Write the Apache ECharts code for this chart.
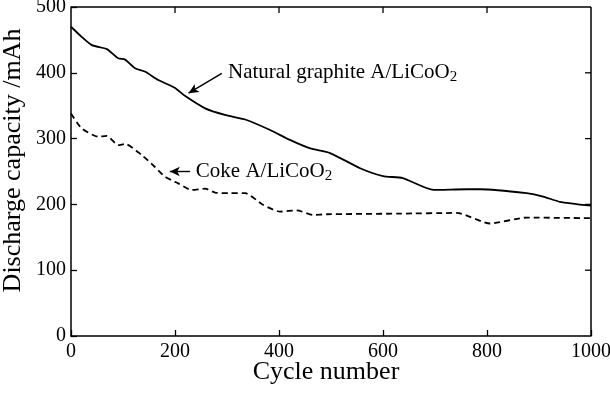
<!DOCTYPE html>
<html><head><meta charset="utf-8">
<script src="https://cdn.jsdelivr.net/npm/echarts@6/dist/echarts.min.js"></script>
<style>html,body{margin:0;padding:0;background:#fff}#c{width:610px;height:395px}</style>
</head><body><div id="c"></div>
<script>
const naturalCycles = [0,20,40,69,91,104,123,142,168,200,219,258,296,335,383,421,460,498,556,600,638,697,761,787,876,908,940,1000];
const naturalValues = [470,455,442,436,422,420,407,402,389,377,365,346,336,329,313,298,285,278,255,243,240,222,223,223,217,212,204,198];
const cokeCycles = [0,20,52,69,91,104,136,160,181,206,232,258,277,306,335,370,402,434,466,492,633,742,806,876,1000];
const cokeValues = [338,316,303,304,290,292,275,258,242,232,222,224,218,217,217,199,189,191,184,185,186,187,171,180,179];
const xTicks = [0,200,400,600,800,1000];
const yTicks = [0,100,200,300,400,500];
const xTitle = 'Cycle number';
const yTitle = 'Discharge capacity /mAh';

const F = '"Liberation Serif","Times New Roman",serif';
const chart = echarts.init(document.getElementById('c'));
const tick = () => ({show:true, inside:true, length:6, lineStyle:{color:'#000', width:1.3}});
const option = {
  animation:false,
  grid:{left:71, right:19, top:7, bottom:59, outerBoundsMode:'none'},
  xAxis:{
    type:'value', min:xTicks[0], max:xTicks[xTicks.length-1], interval:200,
    axisLine:{show:true, lineStyle:{color:'#000', width:1.5}}, axisTick:tick(), splitLine:{show:false},
    axisLabel:{color:'#000', fontFamily:F, fontSize:20, margin:6, formatter:v=>String(v)}
  },
  yAxis:{
    type:'value', min:yTicks[0], max:yTicks[yTicks.length-1], interval:100,
    axisLine:{show:true, lineStyle:{color:'#000', width:1.5}}, axisTick:tick(), splitLine:{show:false},
    axisLabel:{color:'#000', fontFamily:F, fontSize:20, margin:5, formatter:v=>String(v)}
  },
  series:[{
    type:'line', name:'Natural graphite', showSymbol:false, smooth:0.2,
    data:naturalCycles.map((c,i)=>[c,naturalValues[i]]),
    lineStyle:{color:'#000', width:1.8},
    markLine:{silent:true, symbolSize:[7,10], lineStyle:{color:'#000', width:1.4, type:'solid'}, label:{show:false},
      data:[[{coord:[290,399], symbol:'none'},{coord:[226,369], symbol:'arrow'}]]}
  },{
    type:'line', name:'Coke', showSymbol:false, smooth:0.2,
    data:cokeCycles.map((c,i)=>[c,cokeValues[i]]),
    lineStyle:{color:'#000', width:1.8, type:[6,4]},
    markLine:{silent:true, symbolSize:[7,10], lineStyle:{color:'#000', width:1.4, type:'solid'}, label:{show:false},
      data:[[{coord:[229,250], symbol:'none'},{coord:[190,250], symbol:'arrow'}]]}
  }]
};
chart.setOption(option);
const px = v => chart.convertToPixel({gridIndex:0}, v);
const p1 = px([302,401]);
const p2 = px([240,250]);
const o0 = px([xTicks[0], yTicks[0]]);
const o1 = px([xTicks[xTicks.length-1], yTicks[yTicks.length-1]]);
const rich = {
  t:{fontFamily:F, fontSize:21, color:'#000'},
  s:{fontFamily:F, fontSize:15, color:'#000', padding:[9,0,0,0]}
};
const frameStyle = {stroke:'#000', lineWidth:1.5, fill:null};
const tickStyle = {stroke:'#000', lineWidth:1.3};
const elems = [
  {type:'line', shape:{x1:o0[0], y1:o1[1], x2:o1[0], y2:o1[1]}, style:frameStyle, z:10},
  {type:'line', shape:{x1:o1[0], y1:o1[1], x2:o1[0], y2:o0[1]}, style:frameStyle, z:10}
];
xTicks.slice(1, -1).forEach(t => {
  const p = px([t, yTicks[yTicks.length-1]]);
  elems.push({type:'line', shape:{x1:p[0], y1:p[1], x2:p[0], y2:p[1]+6}, style:tickStyle, z:10});
});
yTicks.slice(1, -1).forEach(t => {
  const p = px([xTicks[xTicks.length-1], t]);
  elems.push({type:'line', shape:{x1:p[0], y1:p[1], x2:p[0]-6, y2:p[1]}, style:tickStyle, z:10});
});
elems.push(
  {type:'text', x:p1[0], y:p1[1], style:{text:'{t|Natural graphite A/LiCoO}{s|2}', rich, verticalAlign:'middle', align:'left'}},
  {type:'text', x:p2[0], y:p2[1], style:{text:'{t|Coke A/LiCoO}{s|2}', rich, verticalAlign:'middle', align:'left'}},
  {type:'text', x:(o0[0]+o1[0])/2 - 5, y:o0[1]+36, style:{text:xTitle, fontFamily:F, fontSize:26, fill:'#000', align:'center', verticalAlign:'middle'}},
  {type:'text', x:o0[0]-58, y:(o0[1]+o1[1])/2 - 11, rotation:Math.PI/2, style:{text:yTitle, fontFamily:F, fontSize:26, fill:'#000', align:'center', verticalAlign:'middle'}}
);
chart.setOption({graphic:elems});
</script></body></html>
